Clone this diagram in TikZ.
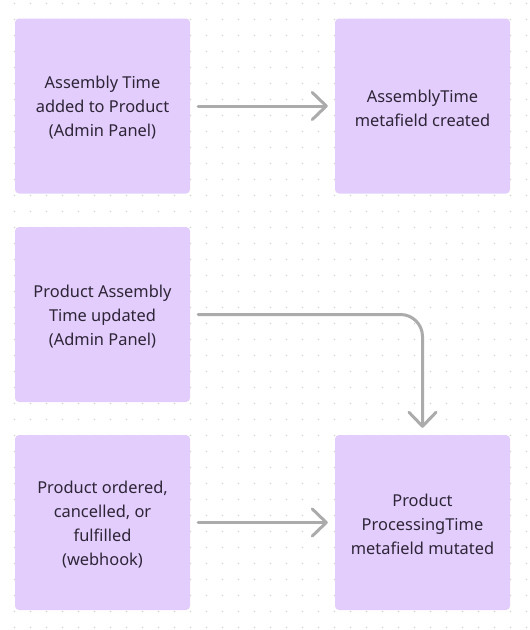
\documentclass[tikz,border=0pt]{standalone}
\usepackage{fontspec}
\setmainfont{Noto Sans}
\usetikzlibrary{arrows.meta}
\definecolor{boxfill}{HTML}{E3CDFC}
\definecolor{txt}{HTML}{2E2538}
\definecolor{arrowc}{HTML}{ABABAB}
\definecolor{dotc}{HTML}{D4D4D4}
\tikzset{
  card/.style={fill=boxfill, rounded corners=4pt, minimum width=175pt, minimum height=175pt,
    inner sep=0pt},
  cardtext/.style={text=txt, align=center, inner sep=0pt,
    font=\fontsize{16.4pt}{24pt}\selectfont},
  flow/.style={draw=arrowc, line width=3pt, line cap=round, line join=round,
    -{Straight Barb[length=14pt,width=27pt,line cap=round,line join=round]},
    shorten <=8pt, shorten >=7pt},
}
\begin{document}
\begin{tikzpicture}[x=1pt,y=-1pt]
\useasboundingbox (0,0) rectangle (530,630);
\fill[white] (0,0) rectangle (530,630);
\foreach \i in {0,...,33} {
  \foreach \j in {0,...,39} {
    \fill[dotc] (14.5+16*\i, 3.5+16*\j) circle (0.8pt);
  }
}
\node[card] (a) at (102.5,106) {};
\node[card] (b) at (422.5,106) {};
\node[card] (c) at (102.5,314.5) {};
\node[card] (d) at (102.5,522.5) {};
\node[card] (e) at (422.5,522.5) {};
\node[cardtext] (at) at ([yshift=-2pt]a.center) {Assembly Time\\added to Product\\(Admin Panel)};
\node[cardtext] (bt) at ([yshift=-2pt]b.center) {AssemblyTime\\metafield created};
\node[cardtext] (ct) at ([yshift=-2pt]c.center) {Product Assembly\\Time updated\\(Admin Panel)};
\node[cardtext] (dt) at ([yshift=-2pt]d.center) {Product ordered,\\cancelled, or\\fulfilled\\(webhook)};
\node[cardtext] (et) at ([yshift=-2pt]e.center) {Product\\ProcessingTime\\metafield mutated};
\draw[flow] (a) -- (b);
\draw[flow, rounded corners=22pt] (c.east) -| (e.north);
\draw[flow] (d) -- (e);
\end{tikzpicture}
\end{document}
